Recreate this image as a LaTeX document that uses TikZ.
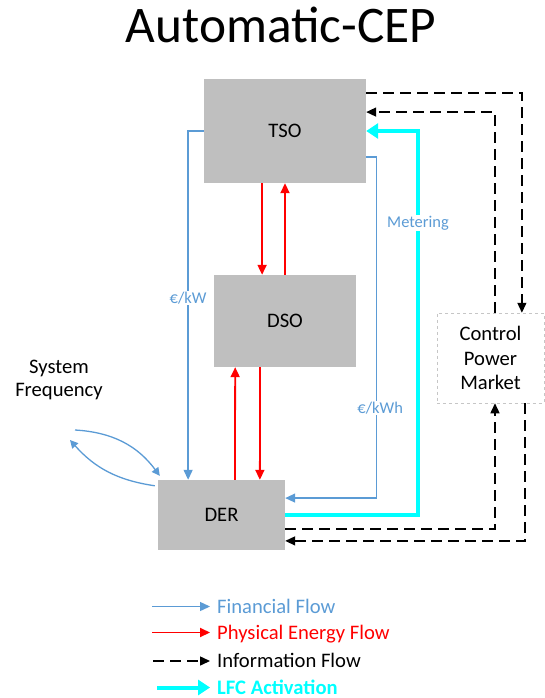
\documentclass[tikz,border=0pt]{standalone}
\usepackage{fontspec}
\setmainfont{Carlito}
\usetikzlibrary{arrows.meta}

\definecolor{finblue}{HTML}{5B9BD5}
\definecolor{boxgray}{HTML}{BFBFBF}
\definecolor{lfccyan}{HTML}{00FFFF}

\begin{document}
\begin{tikzpicture}[x=1bp,y=1bp,>={Triangle[length=10bp,width=9bp]},
  actor/.style={fill=boxgray,inner sep=0pt,font=\fontsize{20.7}{24}\selectfont},
  market/.style={draw=gray!45,dashed,line width=0.5bp,align=center,inner sep=0pt,font=\fontsize{20.7}{25}\selectfont},
  fin/.style={draw=finblue,line width=1.3bp},
  phys/.style={draw=red,line width=1.8bp},
  info/.style={draw=black,line width=1.4bp,dash pattern=on 11bp off 6bp},
  lfc/.style={draw=lfccyan,line width=4bp,>={Triangle[length=12bp,width=15bp]}},
  lbl/.style={fill=white,text=finblue,inner sep=1bp,font=\fontsize{16.5}{19}\selectfont},
  legtxt/.style={anchor=west,inner sep=0pt,text height=13bp,text depth=0pt,font=\fontsize{20.7}{24}\selectfont}]
  \useasboundingbox (0,0) rectangle (545,-698);
  \node[font=\fontsize{51.5}{60}\selectfont,anchor=base] (title) at (281,-43) {Automatic-CEP};
  \node[actor,minimum width=162bp,minimum height=104bp] (TSO) at (285,-131) {TSO};
  \node[actor,minimum width=142bp,minimum height=92bp] (DSO) at (285,-321) {DSO};
  \node[actor,minimum width=127bp,minimum height=70bp] (DER) at (221.5,-515) {DER};
  \node[market,minimum width=107bp,minimum height=90bp] (CPM) at (490.5,-358) {Control\\Power\\Market};
  \node[align=center,font=\fontsize{20.7}{24}\selectfont] (freq) at (59,-380) {System\\Frequency};
  \draw[fin,->] (TSO.west) -| ([xshift=-33.5]DER.north) node[pos=0.74,lbl]{€/kW};
  \draw[fin,->] ([yshift=-26]TSO.east) -- ++(10,0) |- ([yshift=17]DER.east) node[pos=0.368,lbl,xshift=4bp]{€/kWh};
  \draw[lfc,->] (DER.east) -| ([xshift=52]TSO.east) node[pos=0.88,lbl]{Metering} -- (TSO.east);
  \draw[info,->] ([yshift=38]TSO.east) -| ([xshift=31.5]CPM.north);
  \draw[info,->] ([xshift=4.5]CPM.north) |- ([yshift=19]TSO.east);
  \draw[info,->] ([yshift=-14]DER.east) -| ([xshift=4.5]CPM.south);
  \draw[info,->] ([xshift=34.5]CPM.south) |- ([yshift=-26]DER.east);
  \draw[phys,->] ([xshift=-23]TSO.south) -- ([xshift=-23]DSO.north);
  \draw[phys,->] (DSO.north) -- (TSO.south);
  \draw[phys,->] ([xshift=13.5]DER.north) -- ([xshift=-50]DSO.south);
  \draw[phys,->] ([xshift=-25]DSO.south) -- ([xshift=38.5]DER.north);
  \coordinate (sf1) at (75,-430);
  \coordinate (sf2) at (70,-440);
  \draw[fin,>={Triangle[length=8bp,width=8bp]},->] (sf1) to[bend left=25] ([xshift=2,yshift=4]DER.north west);
  \draw[fin,>={Triangle[length=8bp,width=8bp]},->] ([xshift=-3,yshift=-6]DER.north west) to[bend left=20] (sf2);
  \node[legtxt,text=finblue] (lfin) at (217,-606.5) {Financial Flow};
  \node[legtxt,text=red] (lphys) at (217,-632.5) {Physical Energy Flow};
  \node[legtxt] (linfo) at (217,-661) {Information Flow};
  \node[legtxt,text=lfccyan,font=\fontsize{20.7}{24}\selectfont\bfseries] (llfc) at (217,-687.5) {LFC Activation};
  \draw[fin,->] ([xshift=-65]lfin.west) -- ([xshift=-7]lfin.west);
  \draw[phys,->] ([xshift=-65]lphys.west) -- ([xshift=-7]lphys.west);
  \draw[info,->] ([xshift=-64]linfo.west) -- ([xshift=-7]linfo.west);
  \draw[lfc,->] ([xshift=-60]llfc.west) -- ([xshift=-7]llfc.west);
\end{tikzpicture}
\end{document}
